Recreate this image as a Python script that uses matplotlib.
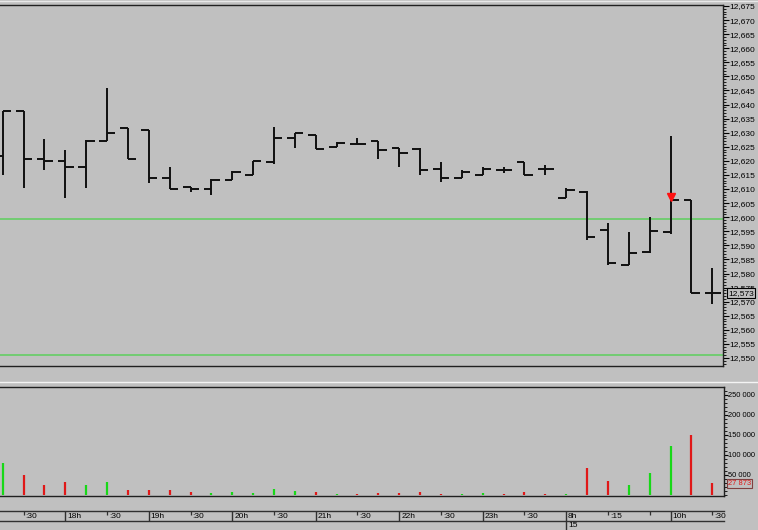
import matplotlib
matplotlib.use("Agg")
import matplotlib.pyplot as plt
from matplotlib.ticker import MultipleLocator, FixedLocator, FuncFormatter
from matplotlib.lines import Line2D
import matplotlib.font_manager as fm

# ---------------- data ----------------
opens = [12.6217, 12.6378, 12.6208, 12.6201, 12.6178, 12.6271, 12.6318, 12.6310, 12.6139, 12.6108,
         12.6099, 12.6132, 12.6150, 12.6197, 12.6280, 12.6292, 12.6248, 12.6260, 12.6272, 12.6247,
         12.6241, 12.6170, 12.6138, 12.6150, 12.6168, 12.6197, 12.6170, 12.6069, 12.6091, 12.5955,
         12.5830, 12.5878, 12.5949, 12.6061, 12.5730]
highs = [12.6378, 12.6378, 12.6279, 12.6238, 12.6274, 12.6459, 12.6318, 12.6310, 12.6177, 12.6108,
         12.6137, 12.6165, 12.6200, 12.6319, 12.6298, 12.6292, 12.6268, 12.6280, 12.6272, 12.6247,
         12.6245, 12.6197, 12.6168, 12.6179, 12.6177, 12.6197, 12.6185, 12.6103, 12.6094, 12.5978,
         12.5949, 12.6000, 12.6288, 12.6061, 12.5819]
lows = [12.6150, 12.6105, 12.6168, 12.6067, 12.6105, 12.6271, 12.6208, 12.6120, 12.6099, 12.6090,
        12.6078, 12.6132, 12.6150, 12.6189, 12.6245, 12.6241, 12.6248, 12.6260, 12.6206, 12.6177,
        12.6150, 12.6126, 12.6138, 12.6150, 12.6158, 12.6150, 12.6150, 12.6069, 12.5919, 12.5830,
        12.5830, 12.5874, 12.5940, 12.5730, 12.5692]
closes = [12.6378, 12.6208, 12.6201, 12.6178, 12.6271, 12.6300, 12.6208, 12.6139, 12.6099, 12.6099,
          12.6133, 12.6162, 12.6200, 12.6280, 12.6298, 12.6241, 12.6262, 12.6260, 12.6239, 12.6227,
          12.6168, 12.6138, 12.6162, 12.6170, 12.6168, 12.6150, 12.6170, 12.6097, 12.5929, 12.5838,
          12.5872, 12.5952, 12.6061, 12.5730, 12.5730]
volumes = [78000, 48750, 23750, 32000, 23750, 32000, 11250, 11250, 11250, 6250,
           3750, 6250, 3750, 13000, 9500, 6250, 2000, 2000, 3750, 3750,
           6250, 2000, 2000, 3750, 2000, 6250, 2000, 1000, 66250, 33250,
           23250, 55000, 121500, 150000, 27873]
level_lines = [12.5994, 12.5511]
signal_bar = 32
signal_price = 12.6073
last_price_label = "12,573"
last_volume_label = "27 873"
time_labels = [(1, ":30", False), (3, "18h", True), (5, ":30", False), (7, "19h", True),
               (9, ":30", False), (11, "20h", True), (13, ":30", False), (15, "21h", True),
               (17, ":30", False), (19, "22h", True), (21, ":30", False), (23, "23h", True),
               (25, ":30", False), (27, "8h", True), (29, ":15", False), (31, "", False),
               (32, "10h", True), (34, ":30", False)]
day_labels = [(27, "15")]

# ---------------- style ----------------
names = {f.name for f in fm.fontManager.ttflist}
FONT = "Liberation Sans" if "Liberation Sans" in names else "DejaVu Sans"
plt.rcParams["font.family"] = [FONT, "DejaVu Sans"]
BG = "#c0c0c0"
FS = 6.0
FSV = 5.4

W, H = 758, 530
PX0, PXSTEP = 2.7, 20.87


def xl(right_px):
    return ((0 - PX0) / PXSTEP, (right_px - PX0) / PXSTEP)


def rect(left, top, right, bottom):
    return [left / W, 1 - bottom / H, (right - left) / W, (bottom - top) / H]


fig = plt.figure(figsize=(W / 100, H / 100), dpi=100, facecolor=BG)

# ---------------- price panel ----------------
ax = fig.add_axes(rect(0, 5, 722.7, 366), facecolor=BG)
n = len(opens)
xs = list(range(n))
ax.vlines(xs, lows, highs, color="#101010", lw=1.4)
ax.hlines(opens, [x - 0.37 for x in xs], xs, color="#101010", lw=1.4)
ax.hlines(closes, xs, [x + 0.40 for x in xs], color="#101010", lw=1.4)
for lv in level_lines:
    ax.axhline(lv, color="#5ccf5c", lw=1.1, zorder=0)
ax.plot([signal_bar], [signal_price], marker="v", color="#ff1010", ms=5.5, mec="#ff1010", ls="none")

ax.set_xlim(*xl(722.7))
scale = 0.125 / 352
ax.set_ylim(12.675 - 360 * scale, 12.675 + 1 * scale)
ax.yaxis.tick_right()
ax.yaxis.set_major_locator(MultipleLocator(0.005))
ax.yaxis.set_minor_locator(MultipleLocator(0.001))
ax.yaxis.set_major_formatter(FuncFormatter(lambda v, p: f"{round(v * 1000):,}"))
ax.tick_params(axis="y", which="major", direction="out", length=4, width=0.8,
               labelsize=FS, pad=1, colors="#000000")
ax.tick_params(axis="y", which="minor", direction="out", length=2, width=0.6, colors="#000000")
ax.set_xticks([])
ax.spines["left"].set_visible(False)
for s in ("top", "right", "bottom"):
    ax.spines[s].set_color("#202020")
    ax.spines[s].set_linewidth(1.0)
ax.text(1.008, closes[-1], last_price_label, transform=ax.get_yaxis_transform(),
        ha="left", va="center", fontsize=FS, color="black", clip_on=False, zorder=5,
        bbox=dict(boxstyle="square,pad=0.15", fc=BG, ec="black", lw=0.8))

# ---------------- volume panel ----------------
vax = fig.add_axes(rect(0, 387.3, 723.5, 495.7), facecolor=BG)
vcolors = ["#18d818" if c > o else "#e01818" for o, c in zip(opens, closes)]
vax.vlines(xs, 0, volumes, colors=vcolors, lw=1.6)
vax.set_xlim(*xl(723.5))
vax.set_ylim(-3000, 268000)
vax.yaxis.tick_right()
vax.yaxis.set_major_locator(FixedLocator([50000, 100000, 150000, 200000, 250000]))
vax.yaxis.set_minor_locator(MultipleLocator(10000))
vax.yaxis.set_major_formatter(FuncFormatter(lambda v, p: f"{int(v):,}".replace(",", " ")))
vax.tick_params(axis="y", which="major", direction="out", length=3, width=0.8,
                labelsize=FSV, pad=0.5, colors="#000000")
vax.tick_params(axis="y", which="minor", direction="out", length=2, width=0.6, colors="#000000")
vax.set_xticks([])
vax.spines["left"].set_visible(False)
for s in ("top", "right", "bottom"):
    vax.spines[s].set_color("#202020")
    vax.spines[s].set_linewidth(1.0)
vax.text(1.006, volumes[-1], last_volume_label, transform=vax.get_yaxis_transform(),
         ha="left", va="center", fontsize=FSV, color="#e01818", clip_on=False,
         bbox=dict(boxstyle="square,pad=0.15", fc=BG, ec="#804040", lw=0.8))

# ---------------- time axis ----------------
tax = fig.add_axes(rect(0, 510.7, 724, 521), facecolor=BG)
tax.set_xlim(*xl(724))
tax.set_ylim(0, 1)
tax.set_xticks([])
tax.set_yticks([])
for s in ("left", "right"):
    tax.spines[s].set_visible(False)
for s in ("top", "bottom"):
    tax.spines[s].set_color("#303030")
    tax.spines[s].set_linewidth(1.0)
for i, lab, major in time_labels:
    if major:
        tax.vlines(i, 0, 1, color="#303030", lw=1.0)
    else:
        tax.vlines(i, 0.62, 1, color="#303030", lw=0.9)
    tax.text(i + 0.09, 0.45, lab, ha="left", va="center", fontsize=FS, color="black")

dax = fig.add_axes(rect(0, 521, 724, 530), facecolor=BG)
dax.set_xlim(*xl(724))
dax.set_ylim(0, 1)
dax.axis("off")
for i, lab in day_labels:
    dax.vlines(i, 0, 1, color="#303030", lw=1.0)
    dax.text(i + 0.12, 0.45, lab, ha="left", va="center", fontsize=FS, color="black")

# separators
fig.add_artist(Line2D([0, 1], [1 - 381.7 / H] * 2, color="#f4f4f4", lw=1.0))
fig.add_artist(Line2D([0, 1], [1 - 0.7 / H] * 2, color="#e8e8e8", lw=1.0))

fig.savefig("out.png", dpi=100, facecolor=BG)
